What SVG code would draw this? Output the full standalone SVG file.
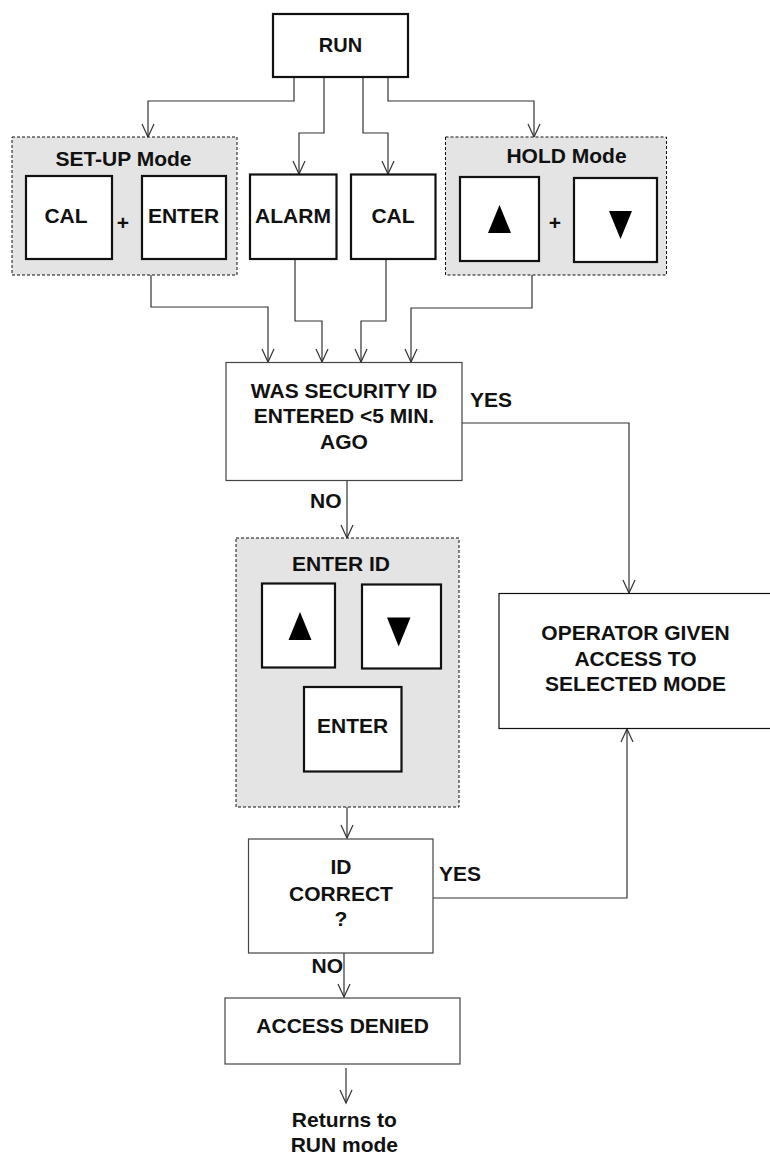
<svg xmlns="http://www.w3.org/2000/svg" width="770" height="1155" viewBox="0 0 770 1155">
<style>
text{font-family:"Liberation Sans",Arial,sans-serif;font-weight:bold;font-size:21px;fill:#111;}
.c{text-anchor:middle;}
.grp{fill:#e4e4e4;stroke:#111;stroke-width:1;stroke-dasharray:3,2;}
.btn{fill:#fff;stroke:#111;stroke-width:2.2;}
.box{fill:#fff;stroke:#444;stroke-width:1.2;}
.box2{fill:#fff;stroke:#111;stroke-width:1.2;}
.ln{fill:none;stroke:#333;stroke-width:1.2;}
.tri{fill:#000;}
</style>
<defs>
<marker id="ah" viewBox="-15 -8 17 16" refX="0" refY="0" markerWidth="17" markerHeight="16" markerUnits="userSpaceOnUse" orient="auto" overflow="visible">
<path d="M-13,-6 L0,0 L-13,6" fill="none" stroke="#333" stroke-width="1.2"/>
</marker>
</defs>
<rect width="770" height="1155" fill="#fff"/>

<g id="connectors">
<polyline class="ln" points="294,77 294,101 148,101 148,137" marker-end="url(#ah)"/>
<polyline class="ln" points="324,77 324,133 299,133 299,174" marker-end="url(#ah)"/>
<polyline class="ln" points="363,77 363,133 388,133 388,174" marker-end="url(#ah)"/>
<polyline class="ln" points="388,77 388,101 534,101 534,137" marker-end="url(#ah)"/>
<polyline class="ln" points="151,275 151,307 268,307 268,362" marker-end="url(#ah)"/>
<polyline class="ln" points="295,259 295,321 322,321 322,362" marker-end="url(#ah)"/>
<polyline class="ln" points="386,259 386,321 361,321 361,362" marker-end="url(#ah)"/>
<polyline class="ln" points="532,275 532,308 411,308 411,362" marker-end="url(#ah)"/>
<polyline class="ln" points="462,423 629,423 629,593" marker-end="url(#ah)"/>
<polyline class="ln" points="347,481 347,538" marker-end="url(#ah)"/>
<polyline class="ln" points="347,807 347,838" marker-end="url(#ah)"/>
<polyline class="ln" points="433,898 627,898 627,729" marker-end="url(#ah)"/>
<polyline class="ln" points="344,953 344,997" marker-end="url(#ah)"/>
<polyline class="ln" points="346,1068 346,1103" marker-end="url(#ah)"/>
</g>

<g id="run">
<rect class="btn" x="273" y="14" width="135" height="63"/>
<text class="c" x="340.5" y="52" style="font-size:20px">RUN</text>
</g>

<g id="setup-mode">
<rect class="grp" x="12" y="137" width="225" height="138"/>
<text class="c" x="123.5" y="166">SET-UP Mode</text>
<rect class="btn" x="26" y="176" width="86" height="83"/>
<text class="c" x="66" y="223">CAL</text>
<text class="c" x="123" y="230">+</text>
<rect class="btn" x="142" y="176" width="84" height="83"/>
<text class="c" x="183.5" y="223">ENTER</text>
</g>

<g id="alarm">
<rect class="btn" x="250" y="174.5" width="86.5" height="84.5"/>
<text class="c" x="293" y="223">ALARM</text>
</g>

<g id="cal">
<rect class="btn" x="351" y="174.5" width="84.5" height="84.5"/>
<text class="c" x="393" y="223">CAL</text>
</g>

<g id="hold-mode">
<rect class="grp" x="445.5" y="137" width="221" height="138"/>
<text class="c" x="566.5" y="163">HOLD Mode</text>
<rect class="btn" x="460" y="177" width="79" height="84"/>
<polygon class="tri" points="499.5,205 511,233 488,233"/>
<text class="c" x="555" y="230">+</text>
<rect class="btn" x="574" y="178" width="83" height="84"/>
<polygon class="tri" points="609,211 632,211 620.5,239"/>
</g>

<g id="was-security">
<rect class="box" x="226" y="362.5" width="236" height="118"/>
<text class="c" x="344" y="398">WAS SECURITY ID</text>
<text class="c" x="344" y="423">ENTERED &lt;5 MIN.</text>
<text class="c" x="344" y="449">AGO</text>
<text x="470" y="407">YES</text>
<text x="310" y="508">NO</text>
</g>

<g id="enter-id">
<rect class="grp" x="236" y="538" width="223" height="269"/>
<text class="c" x="341" y="571">ENTER ID</text>
<rect class="btn" x="262" y="583.5" width="73" height="84"/>
<polygon class="tri" points="300,612 311.5,640 288.5,640"/>
<rect class="btn" x="362" y="584.5" width="79" height="84"/>
<polygon class="tri" points="387,617.5 410.5,617.5 398.7,646.5"/>
<rect class="btn" x="304" y="687" width="97.5" height="84.5"/>
<text class="c" x="352.7" y="733">ENTER</text>
</g>

<g id="operator-access">
<rect class="box2" x="499" y="593.5" width="275" height="135"/>
<text class="c" x="635.5" y="640">OPERATOR GIVEN</text>
<text class="c" x="635.5" y="666">ACCESS TO</text>
<text class="c" x="635.5" y="691">SELECTED MODE</text>
</g>

<g id="id-correct">
<rect class="box" x="248.5" y="839" width="184.5" height="114"/>
<text class="c" x="341" y="874">ID</text>
<text class="c" x="341" y="901">CORRECT</text>
<text class="c" x="341" y="926">?</text>
<text x="439" y="881">YES</text>
<text x="311.5" y="973">NO</text>
</g>

<g id="access-denied">
<rect class="box" x="225" y="998" width="235" height="66"/>
<text class="c" x="342.7" y="1033">ACCESS DENIED</text>
</g>

<g id="returns">
<text class="c" x="344.3" y="1127">Returns to</text>
<text class="c" x="344.3" y="1152">RUN mode</text>
</g>
</svg>
